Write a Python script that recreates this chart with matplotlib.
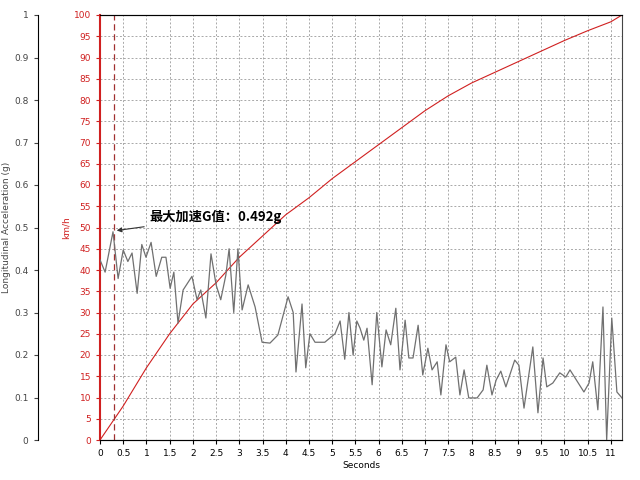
import matplotlib
matplotlib.use("Agg")
import matplotlib.pyplot as plt
import numpy as np

plt.rcParams['font.family'] = ['DejaVu Sans', 'Noto Sans CJK SC']

t_g = [0, 0.11, 0.28, 0.39, 0.50, 0.60, 0.69, 0.80, 0.90, 0.99, 1.10, 1.21, 1.33, 1.42, 1.51, 1.59,
       1.68, 1.79, 1.98, 2.09, 2.17, 2.28, 2.39, 2.50, 2.60, 2.71, 2.78, 2.88, 2.97, 3.06, 3.19, 3.34,
       3.49, 3.66, 3.83, 4.05, 4.16, 4.22, 4.35, 4.43, 4.52, 4.63, 4.84, 4.95, 5.06, 5.17, 5.27, 5.36,
       5.45, 5.53, 5.60, 5.68, 5.75, 5.86, 5.96, 6.07, 6.16, 6.26, 6.37, 6.46, 6.57, 6.65, 6.74, 6.85,
       6.95, 7.06, 7.15, 7.26, 7.34, 7.45, 7.53, 7.66, 7.75, 7.84, 7.94, 8.12, 8.25, 8.33, 8.44, 8.53,
       8.63, 8.74, 8.93, 9.02, 9.13, 9.32, 9.43, 9.54, 9.62, 9.75, 9.90, 10.03, 10.12, 10.42, 10.53,
       10.61, 10.72, 10.83, 10.91, 11.02, 11.13, 11.24]
g_val = [0.424, 0.395, 0.49, 0.38, 0.447, 0.42, 0.44, 0.345, 0.46, 0.43, 0.465, 0.385, 0.43, 0.43,
         0.357, 0.395, 0.275, 0.353, 0.385, 0.33, 0.353, 0.287, 0.438, 0.365, 0.33, 0.388, 0.45, 0.30,
         0.45, 0.306, 0.365, 0.313, 0.23, 0.228, 0.247, 0.337, 0.30, 0.16, 0.32, 0.17, 0.25, 0.23, 0.23,
         0.24, 0.25, 0.28, 0.19, 0.30, 0.20, 0.28, 0.263, 0.235, 0.263, 0.13, 0.30, 0.172, 0.259, 0.224,
         0.31, 0.165, 0.282, 0.193, 0.193, 0.27, 0.153, 0.216, 0.165, 0.184, 0.106, 0.224, 0.184, 0.195,
         0.106, 0.165, 0.099, 0.099, 0.118, 0.176, 0.106, 0.141, 0.162, 0.125, 0.188, 0.176, 0.075,
         0.219, 0.064, 0.193, 0.125, 0.134, 0.158, 0.148, 0.165, 0.113, 0.134, 0.184, 0.071, 0.313,
         0.0, 0.287, 0.113, 0.099]

t_v = [0, 0.25, 0.5, 1.0, 1.5, 2.0, 2.5, 3.0, 3.5, 4.0, 4.5, 5.0, 5.5, 6.0, 6.5, 7.0, 7.5, 8.0,
       8.5, 9.0, 9.5, 10.0, 10.5, 11.0, 11.24]
speed = [0, 4, 8, 17, 25, 32, 37, 43, 48, 53, 57, 61.5, 65.5, 69.5, 73.5, 77.5, 81, 84, 86.5,
         89, 91.5, 94, 96.3, 98.4, 100]

peak_t = 0.3
peak_label = "最大加速G值：0.492g"

fig = plt.figure(figsize=(6.4, 4.8), dpi=100)
ax = fig.add_axes([100/640, 40/480, 522/640, 425/480])
ax.plot(t_v, speed, color='#d02020', lw=0.8)
ax.set_xlim(0, 11.24)
ax.set_ylim(0, 100)
ax.set_xticks(np.arange(0, 11.01, 0.5))
ax.set_xticklabels([f"{v:g}" for v in np.arange(0, 11.01, 0.5)])
ax.set_yticks(range(0, 101, 5))
ax.grid(True, color='#a8a8a8', ls=(0, (2, 2)), lw=0.7)
ax.tick_params(labelsize=6.5, length=3)
ax.tick_params(axis='y', colors='#d02020', labelcolor='#d02020')
ax.spines['left'].set_color('#d02020')
ax.spines['left'].set_linewidth(1.5)
for s in ['top', 'right', 'bottom']:
    ax.spines[s].set_color('#444444')
ax.set_xlabel("Seconds", fontsize=6.5, labelpad=2)
ax.set_ylabel("km/h", fontsize=6.5, color='#d02020', labelpad=2)
ax.axvline(peak_t, color='#a03030', ls=(0, (5, 3)), lw=0.9)

ax2 = ax.twinx()
ax2.plot(t_g, g_val, color='#707070', lw=0.9)
ax2.set_ylim(0, 1)
ax2.set_yticks(np.arange(0, 1.01, 0.1))
ax2.set_yticklabels([f"{v:g}" for v in np.arange(0, 1.01, 0.1)])
ax2.yaxis.set_ticks_position('left')
ax2.yaxis.set_label_position('left')
ax2.spines['left'].set_position(('outward', 45))
ax2.spines['left'].set_visible(True)
ax2.spines['right'].set_visible(False)
ax2.tick_params(labelsize=6.5, length=3, colors='#444444')
ax2.set_ylabel("Longitudinal Acceleration (g)", fontsize=6.5, color='#444444', labelpad=2)
ax2.annotate(peak_label, xy=(peak_t, 0.492), xytext=(1.07, 0.525),
             fontsize=9.5, fontweight='bold', va='center',
             family=['Noto Sans CJK SC', 'DejaVu Sans'],
             arrowprops=dict(arrowstyle='-|>', color='#333333', lw=0.8, mutation_scale=7))

fig.savefig("out.png", dpi=100)
